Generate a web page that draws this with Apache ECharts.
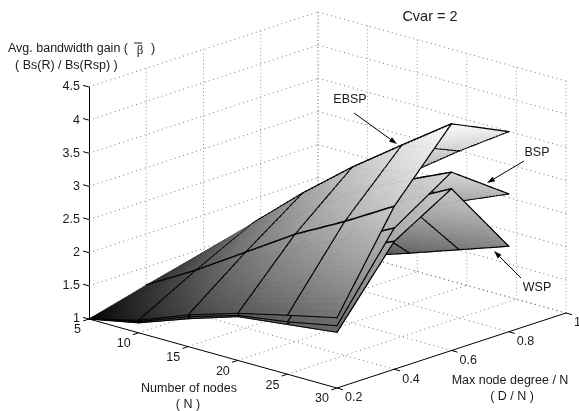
<!DOCTYPE html>
<html><head><meta charset="utf-8">
<style>html,body{margin:0;padding:0;background:#fff}#c{width:579px;height:411px}</style>
<script src="https://cdn.jsdelivr.net/npm/echarts@6/dist/echarts.min.js"></script>
</head><body><div id="c"></div>
<script>
// ---------- data ----------
const nodesN = [5, 10, 15, 20, 25, 30];
const degreeD = [0.2, 0.4, 0.6, 0.8];
const nTicks = [5, 10, 15, 20, 25, 30];
const dTicks = [0.2, 0.4, 0.6, 0.8, 1];
const zTicks = [1, 1.5, 2, 2.5, 3, 3.5, 4, 4.5];
// rows: one per degreeD, columns: one per nodesN
const ebsp = [
  [1.00, 1.19, 1.48, 1.71, 1.89, 2.06],
  [1.23, 1.66, 2.14, 2.62, 3.02, 3.46],
  [1.44, 2.09, 2.75, 3.35, 3.89, 4.42],
  [1.35, 1.90, 2.45, 2.98, 3.52, 4.02]
];
const bsp = [
  [1.00, 1.17, 1.45, 1.68, 1.79, 1.94],
  [1.20, 1.60, 2.00, 2.40, 2.75, 3.13],
  [1.40, 1.95, 2.45, 2.95, 3.35, 3.69],
  [1.35, 1.75, 2.10, 2.45, 2.76, 3.08]
];
const wsp = [
  [1.00, 1.15, 1.42, 1.66, 1.75, 1.84],
  [1.18, 1.55, 1.90, 2.25, 2.60, 2.93],
  [1.35, 1.75, 2.15, 2.61, 3.05, 3.44],
  [1.10, 1.30, 1.52, 1.77, 2.03, 2.29]
];
// ---------- oblique projection of the 3-D box ----------
const FONT = '"Liberation Sans", Arial, sans-serif';
const INK = '#1a1a1a';
function proj(n, d, z) {
  const a = (n - 5) / 25, b = (d - 0.2) / 0.8, c = (z - 1) / 3.5;
  return [89 + 248 * a + 229 * b, 319 + 69 * a - 75 * b - 232 * c];
}
function grey(z) {
  const g = Math.round(255 * Math.pow(Math.min(1, Math.max(0, (z - 1) / 3.5)), 0.66));
  return 'rgb(' + g + ',' + g + ',' + g + ')';
}
// ---------- frame: dotted walls and floor, oblique axes ----------
const zMax = 4.5, zMin = 1, dMin = 0.2, dMax = 1, nMin = 5, nMax = 30;
const dotted = [], solid = [];
zTicks.forEach(z => {
  dotted.push([proj(nMin, dMin, z), proj(nMin, dMax, z)]);
  dotted.push([proj(nMin, dMax, z), proj(nMax, dMax, z)]);
});
nTicks.forEach(n => {
  dotted.push([proj(n, dMax, zMin), proj(n, dMax, zMax)]);
  if (n < nMax) dotted.push([proj(n, dMin, zMin), proj(n, dMax, zMin)]);
});
dTicks.forEach(d => {
  if (d > dMin) dotted.push([proj(nMin, d, zMin), proj(nMin, d, zMax)]);
  if (d > dMin) dotted.push([proj(nMin, d, zMin), proj(nMax, d, zMin)]);
});
solid.push([proj(nMin, dMin, zMin), proj(nMax, dMin, zMin)]);
solid.push([proj(nMax, dMin, zMin), proj(nMax, dMax, zMin)]);
nTicks.forEach(n => { solid.push([proj(n, dMin, zMin), proj(n, dMin - 0.02, zMin)]); });
dTicks.forEach(d => { solid.push([proj(nMax, d, zMin), proj(nMax + 0.6, d, zMin)]); });
zTicks.forEach(z => { const p = proj(nMin, dMin, z); solid.push([p, proj(nMin - 0.6, dMin, z)]); });

// ---------- surfaces: exact back-to-front painter over grid prisms ----------
const SUB = 16;
const surfaces = [wsp, bsp, ebsp];
const items = [];
function bil(s, i, j, u, v) {
  const p = s[j][i], q = s[j][i + 1], r = s[j + 1][i], t = s[j + 1][i + 1];
  return (p * (1 - u) + q * u) * (1 - v) + (r * (1 - u) + t * u) * v;
}
function pt(s, i, j, u, v) {
  const n = nodesN[i] + (nodesN[i + 1] - nodesN[i]) * u;
  const d = degreeD[j] + (degreeD[j + 1] - degreeD[j]) * v;
  return proj(n, d, bil(s, i, j, u, v));
}
const nCells = nodesN.length - 1, dCells = degreeD.length - 1;
for (let j = dCells - 1; j >= 0; j--) {
  for (let sv = SUB - 1; sv >= 0; sv--) {
    for (let i = 0; i < nCells; i++) {
      for (let su = 0; su < SUB; su++) {
        surfaces.forEach(s => {
          const u0 = su / SUB, u1 = (su + 1) / SUB, v0 = sv / SUB, v1 = (sv + 1) / SUB;
          const um = (u0 + u1) / 2, vm = (v0 + v1) / 2;
          items.push({ k: 'p', pts: [pt(s, i, j, u0, v0), pt(s, i, j, u1, v0), pt(s, i, j, u1, v1), pt(s, i, j, u0, v1)], c: grey(bil(s, i, j, um, vm)) });
          // D-constant mesh line on the far side of this sub-cell
          if (sv === SUB - 1) {
            const row = j + 1;
            const drawn = row === 1 || (row === 2 && i > 0) || (row === 3 && i > 0);
            if (drawn) items.push({ k: 'l', pts: [pt(s, i, j, u0, 1), pt(s, i, j, u1, 1)], w: row === 3 ? 1.2 : 1.6 });
          }
          // front edge D = 0.2
          if (j === 0 && sv === 0) items.push({ k: 'l', pts: [pt(s, i, j, u0, 0), pt(s, i, j, u1, 0)], w: 1 });
          // N-constant mesh line, none at N = 5
          if (su === 0 && i > 0) items.push({ k: 'l', pts: [pt(s, i, j, 0, v0), pt(s, i, j, 0, v1)], w: 1.2 });
          // outer edge N = 30
          if (su === SUB - 1 && i === nCells - 1) items.push({ k: 'l', pts: [pt(s, i, j, 1, v0), pt(s, i, j, 1, v1)], w: 1.2 });
        });
      }
    }
  }
}
// ---------- tick labels ----------
const tickTexts = [];
nTicks.forEach(n => { const p = proj(n, dMin, zMin); tickTexts.push({ x: p[0] - 8, y: p[1] + 11, t: String(n), a: 'right' }); });
dTicks.forEach(d => { const p = proj(nMax, d, zMin); tickTexts.push({ x: p[0] + 8, y: p[1] + 10, t: String(d), a: 'left' }); });

function txt(x, y, s, size, align, family) {
  return { type: 'text', silent: true, x, y, style: { text: s, fill: INK, font: (size || 12.5) + 'px ' + (family || FONT), textAlign: align || 'center', textVerticalAlign: 'middle' }, z: 50 };
}
function arrow(x1, y1, x2, y2) {
  const L = Math.hypot(x2 - x1, y2 - y1), ux = (x2 - x1) / L, uy = (y2 - y1) / L, h = 8, w = 2.6;
  const bx = x2 - ux * h, by = y2 - uy * h;
  return [
    { type: 'line', silent: true, z: 50, shape: { x1, y1, x2: bx, y2: by }, style: { stroke: '#000', lineWidth: 1 } },
    { type: 'polygon', silent: true, z: 50, shape: { points: [[x2, y2], [bx - uy * w, by + ux * w], [bx + uy * w, by - ux * w]] }, style: { fill: '#000' } }
  ];
}
const chart = echarts.init(document.getElementById('c'), null, { renderer: 'canvas' });
chart.setOption({
  animation: false,
  backgroundColor: '#fff',
  title: { text: 'Cvar = 2', left: 430, top: 9, padding: 0, textAlign: 'center',
    textStyle: { fontFamily: FONT, fontSize: 14.5, fontWeight: 'normal', color: INK } },
  grid: [
    { left: 0, top: 0, width: 579, height: 411 },
    { left: 89, top: 87, width: 10, height: 232 }
  ],
  xAxis: [
    { type: 'value', gridIndex: 0, min: 0, max: 579, show: false },
    { type: 'value', gridIndex: 1, min: 0, max: 1, show: false }
  ],
  yAxis: [
    { type: 'value', gridIndex: 0, min: 0, max: 411, inverse: true, show: false },
    { type: 'value', gridIndex: 1, min: zMin, max: zMax, interval: 0.5, position: 'left',
      axisLine: { show: true, onZero: false, lineStyle: { color: '#000', width: 1 } },
      axisTick: { show: false }, splitLine: { show: false },
      axisLabel: { margin: 9, color: INK, fontFamily: FONT, fontSize: 12.5, showMinLabel: true, showMaxLabel: true, hideOverlap: false } }
  ],
  series: [
    { type: 'custom', name: 'grid', xAxisIndex: 0, yAxisIndex: 0, z: 1, silent: true, clip: false, progressive: 0,
      data: dotted.map((_, i) => i),
      renderItem: (p, api) => {
        const s = dotted[api.value(0)], a = api.coord(s[0]), b = api.coord(s[1]);
        const vertical = Math.abs(a[0] - b[0]) < 0.01;
        return { type: 'line', shape: { x1: a[0], y1: a[1], x2: b[0], y2: b[1] },
          style: { stroke: vertical ? '#999' : '#777', lineWidth: 1, lineDash: vertical ? [1, 2.5] : [1, 3.5], fill: null } };
      } },
    { type: 'custom', name: 'axes', xAxisIndex: 0, yAxisIndex: 0, z: 2, silent: true, clip: false, progressive: 0,
      data: solid.map((_, i) => i),
      renderItem: (p, api) => {
        const s = solid[api.value(0)], a = api.coord(s[0]), b = api.coord(s[1]);
        return { type: 'line', shape: { x1: a[0], y1: a[1], x2: b[0], y2: b[1] }, style: { stroke: '#000', lineWidth: 1, fill: null } };
      } },
    { type: 'custom', name: 'surfaces', xAxisIndex: 0, yAxisIndex: 0, z: 3, silent: true, clip: false, progressive: 0,
      data: items.map((_, i) => i),
      renderItem: (p, api) => {
        const it = items[api.value(0)];
        const pts = it.pts.map(q => api.coord(q));
        if (it.k === 'p') return { type: 'polygon', shape: { points: pts }, style: { fill: it.c, stroke: it.c, lineWidth: 0.5 } };
        return { type: 'polyline', shape: { points: pts }, style: { stroke: '#000', lineWidth: it.w, lineCap: 'round', fill: null } };
      } },
    { type: 'custom', name: 'ticks', xAxisIndex: 0, yAxisIndex: 0, z: 4, silent: true, clip: false, progressive: 0,
      data: tickTexts.map((_, i) => i),
      renderItem: (p, api) => {
        const t = tickTexts[api.value(0)], c = api.coord([t.x, t.y]);
        return { type: 'text', x: c[0], y: c[1], style: { text: t.t, fill: INK, font: '12.5px ' + FONT, textAlign: t.a, textVerticalAlign: 'middle' } };
      } }
  ],
  graphic: { elements: [
    txt(8, 49, 'Avg. bandwidth gain (', 12.5, 'left'),
    txt(140, 51, 'β', 13, 'center', '"Liberation Serif", serif'),
    { type: 'line', silent: true, z: 50, shape: { x1: 134, y1: 43, x2: 142, y2: 43 }, style: { stroke: INK, lineWidth: 1 } },
    txt(153, 49, ')', 12.5, 'center'),
    txt(15, 66, '( Bs(R) / Bs(Rsp) )', 12.5, 'left'),
    txt(189, 389, 'Number of nodes'),
    txt(188, 405, '( N )'),
    txt(510, 381, 'Max node degree / N'),
    txt(512, 397, '( D / N )'),
    txt(350, 100, 'EBSP'),
    txt(537, 153, 'BSP'),
    txt(537, 288, 'WSP'),
    ...arrow(354, 113, 397, 144),
    ...arrow(524, 161, 487, 183),
    ...arrow(521, 278, 494, 251)
  ] }
});
</script></body></html>
